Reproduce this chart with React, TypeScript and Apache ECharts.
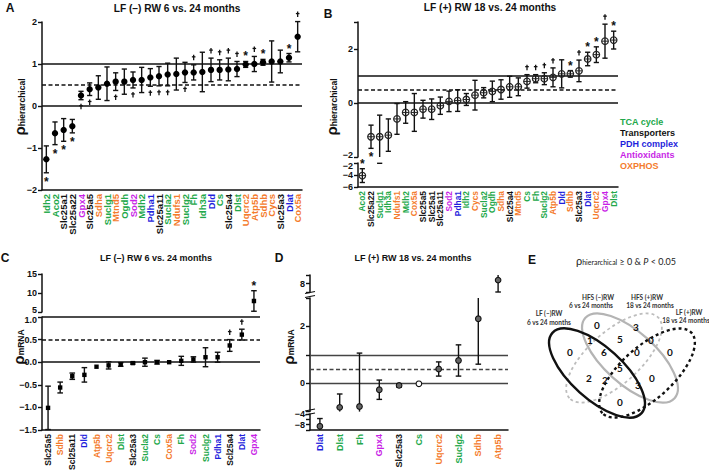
import React, { useEffect, useRef } from 'react';
import * as echarts from 'echarts';

const GROUP_COLORS: Record<string, string> = { T: '#22a84a', X: '#111111', P: '#1f1fdc', A: '#c81fe6', O: '#f47b2c' };
const legendNames = ['TCA cycle', 'Transporters', 'PDH complex', 'Antioxidants', 'OXPHOS'];
const legendGroups = ['T', 'X', 'P', 'A', 'O'];

// ---- Panel A: LF (-) RW 6 vs 24 months, rho hierarchical
const aGenes = ['Idh2', 'Aco2', 'Slc25a1', 'Slc25a22', 'Gpx4', 'Slc25a5', 'Sdha', 'Suclg1', 'Mtnd5', 'Ogdh', 'Sod2', 'Mdh2', 'Pdha1', 'Slc25a11', 'Sucla2', 'Ndufs1', 'Suclg2', 'Fh', 'Idh3a', 'Dld', 'Cs', 'Slc25a4', 'Dlst', 'Uqcrc2', 'Atp5b', 'Sdhb', 'Cycs', 'Slc25a3', 'Dlat', 'Cox5a'];
const aGroups = ['T', 'T', 'X', 'X', 'A', 'X', 'O', 'T', 'O', 'T', 'A', 'T', 'P', 'X', 'T', 'O', 'T', 'T', 'T', 'P', 'T', 'X', 'T', 'O', 'O', 'O', 'O', 'X', 'P', 'O'];
const aMean = [-1.27, -0.65, -0.57, -0.48, 0.25, 0.4, 0.44, 0.53, 0.58, 0.58, 0.62, 0.62, 0.68, 0.71, 0.75, 0.76, 0.8, 0.8, 0.81, 0.86, 0.86, 0.87, 0.88, 0.99, 1.0, 1.04, 1.06, 1.06, 1.15, 1.65];
const aErr = [0.32, 0.27, 0.27, 0.16, 0.1, 0.15, 0.28, 0.4, 0.21, 0.3, 0.19, 0.3, 0.21, 0.23, 0.27, 0.38, 0.24, 0.18, 0.47, 0.28, 0.24, 0.27, 0.18, 0.07, 0.18, 0.07, 0.49, 0.27, 0.1, 0.36];
const aSig = ['*b', '*b', '*b', '*b', '+b', '+b', '', '', '+b', '', '+b', '', '+b', '+b', '+b', '', '+b', '+a', '', '+a', '+a', '+a', '+a', '*a', '+a', '*a', '', '', '*a', '+a'];
const aTicks = [-2, -1, 0, 1, 2];

// ---- Panel B: LF (+) RW 18 vs 24 months, rho hierarchical
const bGenes = ['Aco2', 'Slc25a22', 'Suclg1', 'Idh3a', 'Ndufs1', 'Mdh2', 'Cox5a', 'Slc25a5', 'Slc25a1', 'Slc25a11', 'Sod2', 'Pdha1', 'Idh2', 'Cycs', 'Sucla2', 'Ogdh', 'Sdha', 'Slc25a4', 'Mtnd5', 'Cs', 'Fh', 'Suclg2', 'Atp5b', 'Dld', 'Sdhb', 'Slc25a3', 'Dlat', 'Uqcrc2', 'Gpx4', 'Dlst'];
const bGroups = ['T', 'X', 'T', 'T', 'O', 'T', 'O', 'X', 'X', 'X', 'A', 'P', 'T', 'O', 'T', 'T', 'O', 'X', 'O', 'T', 'T', 'T', 'O', 'P', 'O', 'X', 'P', 'O', 'A', 'T'];
const bMean = [-4.1, -1.25, -1.25, -1.19, -0.59, -0.35, -0.35, -0.23, -0.23, -0.1, 0.06, 0.09, 0.13, 0.29, 0.38, 0.43, 0.5, 0.6, 0.6, 0.8, 0.9, 0.9, 0.95, 1.08, 1.08, 1.19, 1.63, 1.79, 2.29, 2.33];
const bErr = [1.15, 0.43, 0.8, 0.6, 0.57, 0.4, 0.7, 0.33, 0.38, 0.32, 0.38, 0.4, 0.22, 0.55, 0.19, 0.38, 0.36, 0.39, 0.33, 0.25, 0.15, 0.22, 0.35, 0.52, 0.12, 0.4, 0.25, 0.29, 0.63, 0.33];
const bSig = ['*a', '*b', '', '', '', '', '', '', '', '', '', '', '', '', '', '', '', '', '', '+a', '+a', '+a', '+a', '', '*a', '+a', '*a', '*a', '+a', '*a'];
const bTicksUpper = [-2, 0, 2];
const bTicksLower = [-6, -4, -2];

// ---- Panel C: LF (-) RW 6 vs 24 months, rho mRNA
const cGenes = ['Slc25a5', 'Sdhb', 'Scl25a11', 'Dld', 'Atp5b', 'Uqcrc2', 'Dlst', 'Slc25a3', 'Sucla2', 'Cs', 'Cox5a', 'Fh', 'Sod2', 'Suclg2', 'Pdha1', 'Scl25a4', 'Dlat', 'Gpx4'];
const cGroups = ['X', 'O', 'X', 'P', 'O', 'O', 'T', 'X', 'T', 'T', 'O', 'T', 'A', 'T', 'P', 'X', 'P', 'A'];
const cMean = [-1.01, -0.56, -0.31, -0.28, -0.1, -0.07, -0.05, -0.02, 0.0, 0.0, 0.0, 0.03, 0.06, 0.11, 0.11, 0.37, 0.61, 7.9];
const cErr = [0.48, 0.12, 0.07, 0.16, 0, 0.08, 0.04, 0.02, 0.09, 0.04, 0, 0.1, 0.06, 0.21, 0.11, 0.13, 0.12, 2.7];
const cSig = ['', '', '', '', '', '', '', '', '', '', '', '', '', '', '', '+a', '+a', '*a'];
const cTicksUpper = [5, 10, 15];
const cTicksLower = [-1.5, -1.0, -0.5, 0.0, 0.5, 1.0];

// ---- Panel D: LF (+) RW 18 vs 24 months, rho mRNA
const dGenes = ['Dlat', 'Dlst', 'Fh', 'Gpx4', 'Slc25a3', 'Cs', 'Uqcrc2', 'Suclg2', 'Sdhb', 'Atp5b'];
const dGroups = ['P', 'T', 'T', 'A', 'X', 'T', 'O', 'T', 'O', 'O'];
const dMean = [-8.6, -0.85, -0.82, -0.23, -0.08, -0.02, 0.5, 0.8, 2.27, 8.4];
const dErr = [2.9, 0.47, 1.88, 0.34, 0.06, 0, 0.25, 0.55, 1.6, 1.4];

// ---- Panel E: Venn counts
const vennCounts = ['0', '3', '1', '5', '0', '0', '6', '0', '0', '5', '2', '2', '3', '0', '0'];
const vennSets = [['LF (\u2013)RW', '6 vs 24 months'], ['HFS (\u2013)RW', '6 vs 24 months'], ['HFS (+)RW', '18 vs 24 months'], ['LF (+)RW', '18 vs 24 months']];

const F = '"Liberation Sans", Arial, sans-serif';
const minus = (s: string) => s.replace('-', '\u2212');

type Marker = 'dot' | 'theta' | 'square' | 'ring';

function errorSeries(o: { x: number; y: number; mean: number[]; err: number[]; sig?: string[]; lo: number; hi: number; marker: Marker; cap: number }) {
  const { mean, err, sig, lo, hi, marker, cap } = o;
  return {
    type: 'custom',
    xAxisIndex: o.x,
    yAxisIndex: o.y,
    silent: true,
    z: 10,
    itemStyle: { color: '#111' },
    data: mean.map((m, i) => [i, m, err[i]]),
    renderItem: (params: any, api: any) => {
      const i = api.value(0);
      const m = api.value(1);
      const e = api.value(2);
      const stroke = '#111';
      const children: any[] = [];
      const top0 = m + e;
      const bot0 = m - e;
      const top = Math.min(top0, hi);
      const bot = Math.max(bot0, lo);
      if (e > 0 && top > bot) {
        const a = api.coord([i, top]);
        const b = api.coord([i, bot]);
        children.push({ type: 'line', shape: { x1: a[0], y1: a[1], x2: b[0], y2: b[1] }, style: { stroke, lineWidth: 1.4 } });
        if (top0 <= hi) children.push({ type: 'line', shape: { x1: a[0] - cap, y1: a[1], x2: a[0] + cap, y2: a[1] }, style: { stroke, lineWidth: 1.4 } });
        if (bot0 >= lo) children.push({ type: 'line', shape: { x1: b[0] - cap, y1: b[1], x2: b[0] + cap, y2: b[1] }, style: { stroke, lineWidth: 1.4 } });
      }
      if (m >= lo && m <= hi) {
        const p = api.coord([i, m]);
        if (marker === 'dot') {
          children.push({ type: 'circle', shape: { cx: p[0], cy: p[1], r: 3.2 }, style: { fill: '#000' } });
        } else if (marker === 'theta') {
          children.push({ type: 'circle', shape: { cx: p[0], cy: p[1], r: 3.3 }, style: { fill: 'none', stroke: '#222', lineWidth: 1.2 } });
          children.push({ type: 'line', shape: { x1: p[0] - 3.3, y1: p[1], x2: p[0] + 3.3, y2: p[1] }, style: { stroke: '#222', lineWidth: 1 } });
        } else if (marker === 'square') {
          children.push({ type: 'rect', shape: { x: p[0] - 2.2, y: p[1] - 2.2, width: 4.4, height: 4.4 }, style: { fill: '#000' } });
        } else {
          children.push({ type: 'circle', shape: { cx: p[0], cy: p[1], r: 2.8 }, style: { fill: e > 0 ? '#666' : '#fff', stroke: '#111', lineWidth: 1.1 } });
        }
      }
      const s = sig ? sig[params.dataIndex] : '';
      if (s) {
        const above = s[1] === 'a';
        const anchor = above ? top0 : bot0;
        if (anchor >= lo && anchor <= hi) {
          const p = api.coord([i, anchor]);
          const star = s[0] === '*';
          if (star) {
            children.push({
              type: 'text',
              x: p[0],
              y: p[1] + (above ? -5 : 9),
              style: { text: '*', fill: '#111', font: `bold 12px ${F}`, align: 'center', verticalAlign: 'middle' },
            });
          } else {
            const cy = p[1] + (above ? -7 : 7);
            children.push({ type: 'line', shape: { x1: p[0], y1: cy - 3, x2: p[0], y2: cy + 2.5 }, style: { stroke: '#111', lineWidth: 1.3 } });
            children.push({ type: 'line', shape: { x1: p[0] - 1.8, y1: cy - 1, x2: p[0] + 1.8, y2: cy - 1 }, style: { stroke: '#111', lineWidth: 1.3 } });
          }
        }
      }
      return { type: 'group', children };
    },
  };
}

function refLines(x: number, y: number, color: string, width: number) {
  return {
    type: 'scatter',
    xAxisIndex: x,
    yAxisIndex: y,
    symbolSize: 0,
    silent: true,
    data: [],
    markLine: {
      silent: true,
      symbol: 'none',
      animation: false,
      label: { show: false },
      lineStyle: { color, width, type: 'solid' },
      data: [{ yAxis: 1 }, { yAxis: 0.5, lineStyle: { type: [4, 2.5] } }, { yAxis: 0 }],
    },
  };
}

function catAxis(grid: number, genes: string[], groups: string[], show: boolean, fontSize: number) {
  return {
    type: 'category',
    gridIndex: grid,
    data: genes,
    boundaryGap: true,
    show,
    axisLine: { onZero: false, lineStyle: { color: '#111', width: 1.5 } },
    axisTick: { show: false },
    axisLabel: {
      interval: 0,
      rotate: 90,
      margin: 4,
      fontSize,
      fontWeight: 'bold',
      fontFamily: F,
      hideOverlap: false,
      color: (_v: any, idx: number) => GROUP_COLORS[groups[idx]],
    },
  };
}

const tickRich = {
  up: { fontSize: 9, fontWeight: 'bold', fontFamily: F, color: '#111', padding: [0, 0, 5, 0] },
  dn: { fontSize: 9, fontWeight: 'bold', fontFamily: F, color: '#111', padding: [5, 0, 0, 0] },
};

function valAxis(grid: number, ticks: number[], max: number, fmt: (v: number) => string) {
  return {
    type: 'value',
    gridIndex: grid,
    min: ticks[0],
    max,
    interval: ticks[1] - ticks[0],
    axisLine: { show: true, lineStyle: { color: '#111', width: 1.5 } },
    axisTick: { show: true, length: 4, lineStyle: { color: '#111', width: 1.4 } },
    splitLine: { show: false },
    axisLabel: { fontSize: 9, fontWeight: 'bold', fontFamily: F, color: '#111', margin: 5, formatter: fmt, showMinLabel: true, showMaxLabel: true, hideOverlap: false, rich: tickRich },
  };
}

function txt(text: string, x: number, y: number, size: number, opts: any = {}) {
  return {
    type: 'text',
    x,
    y,
    silent: true,
    rotation: opts.rotation || 0,
    style: {
      text,
      fill: opts.fill || '#111',
      font: `${opts.weight || 'bold'} ${size}px ${opts.family || F}`,
      align: opts.align || 'center',
      verticalAlign: 'middle',
    },
  };
}

function yName(sub: string, x: number, y: number) {
  return {
    type: 'text',
    x,
    y,
    silent: true,
    rotation: Math.PI / 2,
    style: {
      text: `{p|\u03c1}{s|${sub}}`,
      align: 'center',
      verticalAlign: 'middle',
      rich: {
        p: { fontSize: 15, fontWeight: 'bold', fontFamily: F, fill: '#111', verticalAlign: 'bottom' },
        s: { fontSize: 8.5, fontWeight: 'bold', fontFamily: F, fill: '#111', verticalAlign: 'bottom' },
      },
    },
  };
}

const VENN_POS = [
  [597, 325], [636, 327], [590, 340], [620, 339], [651, 340], [570, 352], [604, 352], [637, 352], [670, 352],
  [620, 368], [589, 378], [605, 380], [638, 385], [652, 378], [620, 402],
];

function buildOption() {
  const E = 'Lato, "Open Sans", sans-serif';
  const graphics: any[] = [
    txt('A', 10, 8, 12),
    txt('B', 328, 14, 12),
    txt('C', 5, 258, 12),
    txt('D', 279, 258, 12),
    txt('E', 532, 260, 12),
    txt('LF (\u2013) RW 6 vs. 24 months', 177, 8, 10.2),
    txt('LF (+) RW 18 vs. 24 months', 490, 7, 10.2),
    txt('LF (\u2013) RW 6 vs. 24 months', 156, 258, 9),
    txt('LF (+) RW 18 vs. 24 months', 413, 258, 9),
    yName('hierarchical', 19, 107),
    yName('hierarchical', 331, 107),
    yName('mRNA', 18, 347),
    yName('mRNA', 288, 347),
  ];
  legendNames.forEach((n, k) => graphics.push(txt(n, 620, 122 + k * 11, 9, { align: 'left', fill: GROUP_COLORS[legendGroups[k]] })));

  // axis break marks in panel D
  const brk = (y: number) => [
    { type: 'line', silent: true, shape: { x1: 305, y1: y - 1.5, x2: 315, y2: y - 3.5 }, style: { stroke: '#111', lineWidth: 1.2 } },
    { type: 'line', silent: true, shape: { x1: 305, y1: y + 2.5, x2: 315, y2: y + 0.5 }, style: { stroke: '#111', lineWidth: 1.2 } },
  ];
  graphics.push(...brk(295), ...brk(412.5));

  // Venn
  const ell = (cx: number, cy: number, rot: number, stroke: string, dash: any, lw: number) => ({
    type: 'ellipse',
    x: cx,
    y: cy,
    rotation: rot,
    silent: true,
    shape: { cx: 0, cy: 0, rx: 60, ry: 26 },
    style: { fill: 'none', stroke, lineWidth: lw, lineDash: dash },
  });
  const r = (42 * Math.PI) / 180;
  graphics.push(ell(630, 358, -r, '#b4b4b4', null, 2.2));
  graphics.push(ell(614, 358, r, '#bdbdbd', [3, 3], 1.8));
  graphics.push(ell(597, 373, -r, '#111', null, 2.4));
  graphics.push(ell(647, 373, r, '#111', [3, 3], 2.4));
  vennCounts.forEach((c, k) => graphics.push(txt(c, VENN_POS[k][0], VENN_POS[k][1], 10, { family: E })));
  const setPos = [[549, 313, 549, 322], [598, 297, 591, 305], [647, 297, 650, 305], [689, 312, 686, 320]];
  vennSets.forEach((s, k) => {
    graphics.push(txt(s[0], setPos[k][0], setPos[k][1], 6.5, { family: E, fill: '#333' }));
    graphics.push(txt(s[1], setPos[k][2], setPos[k][3], 6.5, { family: E, fill: '#333' }));
  });
  graphics.push({
    type: 'text',
    x: 626,
    y: 260,
    silent: true,
    style: {
      text: '{p|\u03c1}{s|hierarchical}{n| \u2265 0 & }{i|P}{n| < 0.05}',
      align: 'center',
      verticalAlign: 'middle',
      rich: {
        p: { fontSize: 11, fontFamily: E, fill: '#222', verticalAlign: 'bottom' },
        s: { fontSize: 7, fontFamily: E, fill: '#222', verticalAlign: 'bottom' },
        n: { fontSize: 9, fontFamily: E, fill: '#222', verticalAlign: 'bottom' },
        i: { fontSize: 9, fontFamily: E, fontStyle: 'italic', fill: '#222', verticalAlign: 'bottom' },
      },
    },
  });

  const grid = [
    { left: 42, top: 22, width: 260, height: 168 },
    { left: 358, top: 22, width: 260, height: 135 },
    { left: 358, top: 163, width: 260, height: 24 },
    { left: 42, top: 274, width: 218, height: 38 },
    { left: 42, top: 317, width: 218, height: 113 },
    { left: 310, top: 275, width: 198, height: 17 },
    { left: 310, top: 298, width: 198, height: 113.6 },
    { left: 310, top: 414, width: 198, height: 16 },
  ].map((g) => ({ ...g, outerBoundsMode: 'none', containLabel: false }));

  const intFmt = (v: number) => minus(String(v));
  const xAxis = [
    catAxis(0, aGenes, aGroups, true, 9.5),
    catAxis(1, bGenes, bGroups, false, 8.4),
    catAxis(2, bGenes, bGroups, true, 8.4),
    catAxis(3, cGenes, cGroups, false, 8.5),
    catAxis(4, cGenes, cGroups, true, 8.5),
    catAxis(5, dGenes, dGroups, false, 9),
    catAxis(6, dGenes, dGroups, false, 9),
    catAxis(7, dGenes, dGroups, true, 9),
  ];
  const yAxis = [
    valAxis(0, aTicks, aTicks[aTicks.length - 1], intFmt),
    valAxis(1, bTicksUpper, 3, (v) => (v === 3 ? '' : v === -2 ? `{up|${intFmt(v)}}` : intFmt(v))),
    valAxis(2, bTicksLower, bTicksLower[bTicksLower.length - 1], (v) => (v === -2 ? `{dn|${intFmt(v)}}` : intFmt(v))),
    valAxis(3, cTicksUpper, cTicksUpper[cTicksUpper.length - 1], (v) => (v === 5 ? `{up|${intFmt(v)}}` : intFmt(v))),
    valAxis(4, cTicksLower, cTicksLower[cTicksLower.length - 1], (v) => (v === 1 ? `{dn|${v.toFixed(1)}}` : minus(v.toFixed(1)))),
    valAxis(5, [7, 8, 9], 9, (v) => (v === 8 ? '8' : '')),
    valAxis(6, [-1, 0, 1, 2, 3], 3, (v) => (v === 0 || v === 2 ? String(v) : '')),
    valAxis(7, [-10, -8, -6, -4], -4, (v) => (v === -4 || v === -8 ? minus(String(v)) : '')),
  ];

  const series: any[] = [
    refLines(0, 0, '#111', 1.5),
    refLines(1, 1, '#111', 1.5),
    refLines(4, 4, '#111', 1.5),
    refLines(6, 6, '#444', 1.3),
    errorSeries({ x: 0, y: 0, mean: aMean, err: aErr, sig: aSig, lo: -2.5, hi: 2.5, marker: 'dot', cap: 2.6 }),
    errorSeries({ x: 1, y: 1, mean: bMean, err: bErr, sig: bSig, lo: -2, hi: 3, marker: 'theta', cap: 2.6 }),
    errorSeries({ x: 2, y: 2, mean: bMean, err: bErr, sig: bSig, lo: -6, hi: -2, marker: 'theta', cap: 2.6 }),
    errorSeries({ x: 3, y: 3, mean: cMean, err: cErr, sig: cSig, lo: 5, hi: 15, marker: 'square', cap: 2.8 }),
    errorSeries({ x: 4, y: 4, mean: cMean, err: cErr, sig: cSig, lo: -1.5, hi: 1.0, marker: 'square', cap: 2.8 }),
    errorSeries({ x: 5, y: 5, mean: dMean, err: dErr, lo: 7, hi: 9, marker: 'ring', cap: 2.8 }),
    errorSeries({ x: 6, y: 6, mean: dMean, err: dErr, lo: -1, hi: 3, marker: 'ring', cap: 2.8 }),
    errorSeries({ x: 7, y: 7, mean: dMean, err: dErr, lo: -10, hi: -4, marker: 'ring', cap: 2.8 }),
  ];

  return { animation: false, backgroundColor: '#fff', grid, xAxis, yAxis, series, graphic: graphics };
}

export default function App() {
  const ref = useRef<HTMLDivElement>(null);
  useEffect(() => {
    if (!ref.current) return;
    const chart = echarts.init(ref.current, null, { renderer: 'svg' });
    chart.setOption(buildOption() as any);
    return () => chart.dispose();
  }, []);
  return <div ref={ref} style={{ position: 'fixed', left: 0, top: 0, width: 709, height: 474, background: '#fff' }} />;
}
